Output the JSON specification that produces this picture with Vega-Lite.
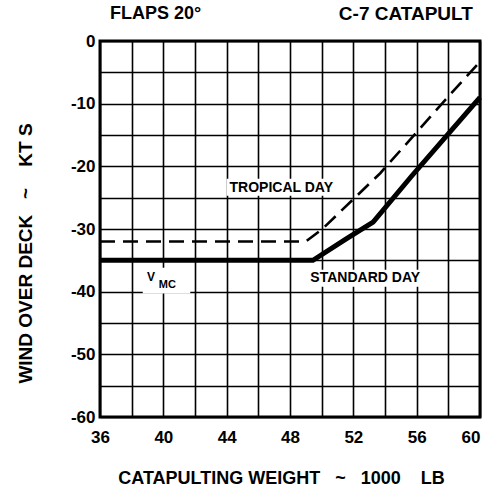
{
  "$schema": "https://vega.github.io/schema/vega-lite/v6.json",
  "width": 380,
  "height": 376,
  "autosize": "none",
  "padding": {"left": 100, "top": 41, "right": 6, "bottom": 76},
  "background": "white",
  "config": {
    "view": {"stroke": "black", "strokeWidth": 3},
    "font": "Liberation Sans"
  },
  "resolve": {"axis": {"x": "independent", "y": "independent"}},
  "datasets": {
    "curves": [
      {"series": "Standard day", "weight": 36, "wod": -35},
      {"series": "Standard day", "weight": 49.45, "wod": -35},
      {"series": "Standard day", "weight": 51.6, "wod": -31.5},
      {"series": "Standard day", "weight": 53.25, "wod": -28.9},
      {"series": "Standard day", "weight": 55.7, "wod": -21.5},
      {"series": "Standard day", "weight": 60, "wod": -9},
      {"series": "Tropical day", "weight": 36, "wod": -32},
      {"series": "Tropical day", "weight": 49, "wod": -32},
      {"series": "Tropical day", "weight": 50, "wod": -30.1},
      {"series": "Tropical day", "weight": 53.7, "wod": -21.1},
      {"series": "Tropical day", "weight": 57.7, "wod": -9.7},
      {"series": "Tropical day", "weight": 60, "wod": -3.3}
    ],
    "boxes": [
      {"x1": 44.0, "x2": 51.0, "y1": -22.0, "y2": -24.7},
      {"x1": 49.0, "x2": 57.0, "y1": -36.5, "y2": -39.2},
      {"x1": 38.7, "x2": 41.7, "y1": -36.2, "y2": -40.3}
    ],
    "labels": [
      {"label": "TROPICAL DAY", "weight": 47.45, "wod": -23.5, "size": 14},
      {"label": "STANDARD DAY", "weight": 52.75, "wod": -37.8, "size": 14},
      {"label": "V", "weight": 39.22, "wod": -37.6, "size": 12},
      {"label": "MC", "weight": 40.25, "wod": -38.9, "size": 11}
    ],
    "headers": [
      {"label": "FLAPS 20°", "weight": 36.63, "wod": 4.3, "align": "left"},
      {"label": "C-7 CATAPULT", "weight": 59.55, "wod": 4.3, "align": "right"}
    ]
  },
  "layer": [
    {
      "data": {"name": "boxes"},
      "mark": {"type": "rect", "fill": "white", "stroke": null},
      "encoding": {
        "x": {
          "field": "x1", "type": "quantitative",
          "scale": {"domain": [36, 60], "nice": false, "zero": false},
          "axis": {
            "orient": "bottom",
            "values": [36, 38, 40, 42, 44, 46, 48, 50, 52, 54, 56, 58, 60],
            "grid": true, "gridColor": "black", "gridWidth": 1.6, "gridOpacity": 1,
            "labels": false, "ticks": false, "domain": false, "title": null
          }
        },
        "x2": {"field": "x2"},
        "y": {
          "field": "y1", "type": "quantitative",
          "scale": {"domain": [-60, 0], "nice": false, "zero": false},
          "axis": {
            "orient": "left",
            "values": [-60, -55, -50, -45, -40, -35, -30, -25, -20, -15, -10, -5, 0],
            "grid": true, "gridColor": "black", "gridWidth": 1.6, "gridOpacity": 1,
            "labels": false, "ticks": false, "domain": false, "title": null
          }
        },
        "y2": {"field": "y2"}
      }
    },
    {
      "data": {"name": "curves"},
      "transform": [{"filter": "datum.series == 'Tropical day'"}],
      "mark": {"type": "line", "color": "black", "strokeWidth": 2.6, "strokeDash": [15, 8]},
      "encoding": {
        "x": {
          "field": "weight", "type": "quantitative",
          "axis": {
            "orient": "bottom",
            "values": [36, 40, 44, 48, 52, 56, 60],
            "grid": false, "ticks": false, "domain": false,
            "labelFont": "Liberation Sans", "labelFontSize": 17, "labelFontWeight": "bold", "labelColor": "black",
            "labelPadding": 12, "labelFlush": false,
            "labelAlign": {"condition": {"test": "datum.value == 60", "value": "right"}, "value": "center"},
            "title": "CATAPULTING WEIGHT\u00a0\u00a0\u00a0~\u00a0\u00a0\u00a01000\u00a0\u00a0\u00a0\u00a0LB",
            "titleFont": "Liberation Sans", "titleFontSize": 18, "titleFontWeight": "bold", "titleColor": "black",
            "titleX": 181, "titleY": 61, "titleAlign": "center", "titleBaseline": "middle"
          }
        },
        "y": {
          "field": "wod", "type": "quantitative",
          "axis": {
            "orient": "left",
            "values": [-60, -50, -40, -30, -20, -10, 0],
            "labelExpr": "'' + datum.value",
            "grid": false, "ticks": false, "domain": false,
            "labelFont": "Liberation Sans", "labelFontSize": 17, "labelFontWeight": "bold", "labelColor": "black",
            "labelPadding": 5, "labelFlush": false,
            "title": "WIND OVER DECK\u00a0\u00a0\u00a0~\u00a0\u00a0\u00a0\u00a0KT S",
            "titleFont": "Liberation Sans", "titleFontSize": 19, "titleFontWeight": "bold", "titleColor": "black",
            "titleX": -75, "titleY": 212, "titleAngle": -90, "titleAlign": "center", "titleBaseline": "middle"
          }
        }
      }
    },
    {
      "data": {"name": "curves"},
      "transform": [{"filter": "datum.series == 'Standard day'"}],
      "mark": {"type": "line", "color": "black", "strokeWidth": 5},
      "encoding": {
        "x": {"field": "weight", "type": "quantitative", "axis": null},
        "y": {"field": "wod", "type": "quantitative", "axis": null}
      }
    },
    {
      "data": {"name": "labels"},
      "mark": {"type": "text", "font": "Liberation Sans", "fontWeight": "bold", "color": "black", "baseline": "middle", "align": "center"},
      "encoding": {
        "x": {"field": "weight", "type": "quantitative", "axis": null},
        "y": {"field": "wod", "type": "quantitative", "axis": null},
        "text": {"field": "label"},
        "size": {"field": "size", "type": "quantitative", "scale": null}
      }
    },
    {
      "data": {"name": "headers"},
      "transform": [{"filter": "datum.align == 'left'"}],
      "mark": {"type": "text", "font": "Liberation Sans", "fontWeight": "bold", "fontSize": 18, "color": "black", "baseline": "middle", "align": "left"},
      "encoding": {
        "x": {"field": "weight", "type": "quantitative", "axis": null},
        "y": {"field": "wod", "type": "quantitative", "axis": null},
        "text": {"field": "label"}
      }
    },
    {
      "data": {"name": "headers"},
      "transform": [{"filter": "datum.align == 'right'"}],
      "mark": {"type": "text", "font": "Liberation Sans", "fontWeight": "bold", "fontSize": 19, "color": "black", "baseline": "middle", "align": "right"},
      "encoding": {
        "x": {"field": "weight", "type": "quantitative", "axis": null},
        "y": {"field": "wod", "type": "quantitative", "axis": null},
        "text": {"field": "label"}
      }
    }
  ]
}
